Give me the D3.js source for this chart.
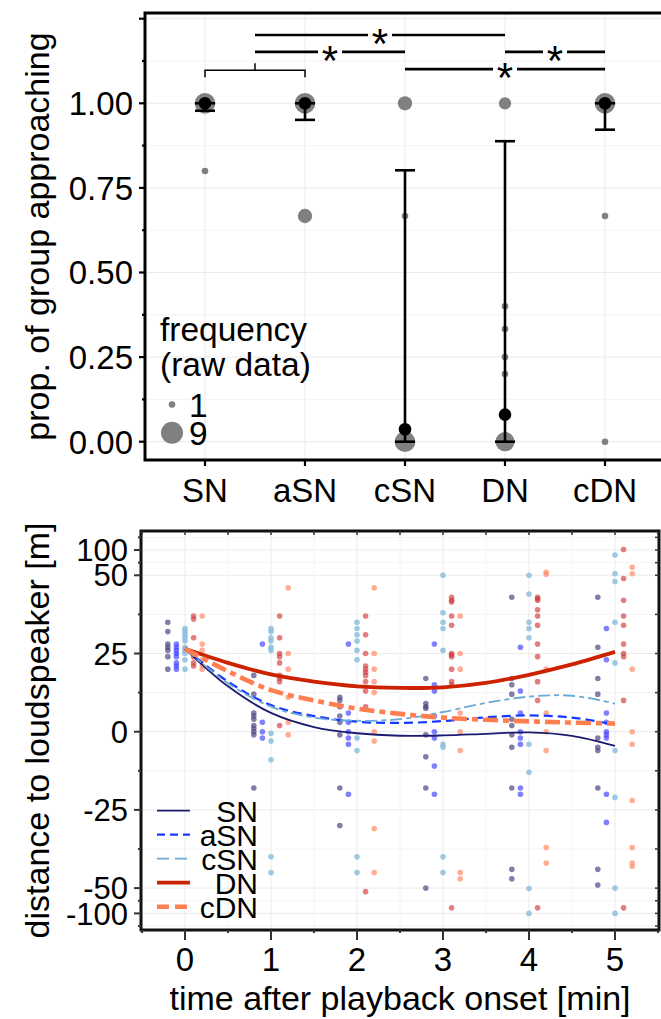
<!DOCTYPE html>
<html>
<head>
<meta charset="utf-8">
<script src="https://cdn.jsdelivr.net/npm/d3@7"></script>
<style>
body { margin: 0; background: #fff; }
svg { display: block; font-family: "Liberation Sans", Arial, sans-serif; }
</style>
</head>
<body>
<script>
// ---- data: upper panel (proportion approaching) ----
const groups = ["SN", "aSN", "cSN", "DN", "cDN"];
const rawProp = [[1, 0.8], [1, 0.667], [1, 0.667, 0], [1, 0.4, 0.333, 0.25, 0.2, 0], [1, 0.667, 0]];
const rawFreq = [[8, 1], [8, 4], [4, 1, 8], [3, 1, 1, 1, 1, 7], [8, 1, 1]];
const meanProp = [1.0, 1.0, 0.037, 0.08, 1.0];
const ciLow = [0.978, 0.951, 0, 0, 0.922];
const ciHigh = [1.0, 1.0, 0.802, 0.888, 1.0];
const sigFrom = ["SN+aSN", "SN+aSN", "DN", "cSN"];
const sigTo = ["cSN", "DN", "cDN", "cDN"];
const sigLevel = [1.152, 1.202, 1.152, 1.101];
const yTicksTop = ["0.00", "0.25", "0.50", "0.75", "1.00"];

// ---- data: lower panel (distance to loudspeaker) ----
const times = [0, 1, 2, 3, 4, 5];
const distSN = [
  [35, 32, 28, 27, 26, 24, 20],
  [18, 12, 6, 5, 4, 2, 1, 0, -1, -18],
  [11, 10, 8, 5, 3, -1, -18, -30],
  [17, 9, 8, 7.5, -1, -8, -18, -50],
  [43, 17, 15, 12, 4, 2, -1, -5, -18, -44, -47],
  [43, 27, 17, 12, -2, -5, -6, -18, -44, -49]
];
const distASN = [
  [28, 27, 26, 25, 24, 22, 21, 20],
  [28, 3, 0, -2],
  [28, 6, 3, 0, -2, -4, -20],
  [28, 15, 13, 5, 0, -2, -11, -20],
  [27, 13, 6, 0, -2, -4, -18, -20],
  [33, 23, 6, 3, 0, -1, -2, -20, -29]
];
const distCSN = [
  [33, 32, 31, 30, 29, 27, 26.5, 26, 25, 23, 20],
  [33, 32, 30, 29, 27, 26, -0.5, -3, -9, -40, -45],
  [35, 33, 31, 29, 26, 23, -2, -6, -40, -45],
  [50, 38, 35, 33, 26, -4, -5, -40, -45],
  [50, 44, 35, 33, 30, -4, -13, -51, -100],
  [90, 53, 48, 35, 22, -6, -21, -50, -100]
];
const distDN = [
  [37, 36, 30, 25, 24, 22, 21],
  [37, 30, 25, 24, 22, 18, 17, 16, 2],
  [37, 31, 25, 21, 20, 19, 18, 16, 13, 8, -57],
  [43, 42, 41.5, 37, 34, 25, 24.5, 24, 20, 16, 15, -89],
  [43, 42.5, 42, 39, 37, 34, 28, 24, 16, 10, -89],
  [101, 49, 42, 37, 34, 28, 25, 24, 10, -89]
];
const distCDN = [
  [37, 28, 26, 23, 21, 20],
  [46, 25, 20, 11, 3, -1],
  [46, 25, 20, 16, 12.5, 0, -3, -31, -45],
  [37, 25, 20, 6, 0, -6, -45, -47],
  [56, 52, 20, 6, 0, -6, -37, -42],
  [66, 53, 20, 0, -4, -22, -37, -42, -43]
];
const fitTimes = [0, 0.5, 1, 1.5, 2, 2.5, 3, 3.5, 4, 4.5, 5];
const fitSN = [26.5, 14.5, 6, 1.5, -0.5, -1.3, -1.2, -0.7, -0.2, -1.3, -4.5];
const fitASN = [26.5, 16, 8.5, 5, 3.2, 2.8, 3.4, 4.6, 5.2, 4.5, 2.3];
const fitCSN = [26.5, 15.5, 8, 4.5, 3.5, 4, 6.3, 9.2, 11.2, 11.5, 9];
const fitDN = [26.5, 22, 18.3, 16, 14.5, 14, 14.2, 15.6, 18.2, 21.5, 25.5];
const fitCDN = [26.5, 19.3, 13.3, 10, 7.4, 5.7, 4.5, 3.8, 3.3, 2.9, 2.6];
const yTicksBottom = [100, 50, 25, 0, -25, -50, -100];

const width = 661, height = 1019;
const svg = d3.select("body").append("svg")
    .attr("width", width)
    .attr("height", height);

const gridCol = "#ebebeb", minorCol = "#f4f4f4";
const tickFont = 33, titleFont = 34;

// ================= upper panel =================
const pTop = { l: 145, r: 675, t: 13, b: 460 };
const xTop = d3.scalePoint().domain(groups).range([145, 665]).padding(0.6);
const yTop = d3.scaleLinear().domain([0, 1]).range([441.7, 103.3]);
const rSize = d3.scaleSqrt().domain([1, 9]).range([3.3, 11]);
const xSig = k => k.includes("+") ? d3.mean(k.split("+"), g => xTop(g)) : xTop(k);

const gTop = svg.append("g");
d3.range(0, 1.3, 0.125).forEach((v, i) => {
  gTop.append("line")
      .attr("x1", pTop.l).attr("x2", pTop.r)
      .attr("y1", yTop(v)).attr("y2", yTop(v))
      .attr("stroke", i % 2 ? minorCol : gridCol).attr("stroke-width", 1);
});
groups.forEach(g => {
  gTop.append("line")
      .attr("x1", xTop(g)).attr("x2", xTop(g))
      .attr("y1", pTop.t).attr("y2", pTop.b)
      .attr("stroke", gridCol).attr("stroke-width", 1);
});

// raw data points, size = frequency
groups.forEach((g, i) => {
  gTop.selectAll(null)
      .data(rawProp[i].map((v, j) => ({ v: v, n: rawFreq[i][j] })))
      .enter().append("circle")
      .attr("cx", xTop(g))
      .attr("cy", d => yTop(d.v))
      .attr("r", d => rSize(d.n))
      .attr("fill", "#808080");
});

// error bars + means
groups.forEach((g, i) => {
  const x = xTop(g);
  gTop.append("line")
      .attr("x1", x).attr("x2", x)
      .attr("y1", yTop(ciLow[i])).attr("y2", yTop(ciHigh[i]))
      .attr("stroke", "#000").attr("stroke-width", 2.6);
  [ciLow[i], ciHigh[i]].forEach(v => {
    gTop.append("line")
        .attr("x1", x - 10).attr("x2", x + 10)
        .attr("y1", yTop(v)).attr("y2", yTop(v))
        .attr("stroke", "#000").attr("stroke-width", 2.6);
  });
  gTop.append("circle")
      .attr("cx", x).attr("cy", yTop(meanProp[i]))
      .attr("r", 6.3).attr("fill", "#000");
});

// bracket joining SN and aSN
const yb = yTop(1.098);
gTop.append("path")
    .attr("d", `M${xTop("SN")},${yb + 7}V${yb}H${xTop("aSN")}V${yb + 7}M${xSig("SN+aSN")},${yb}V${yb - 7}`)
    .attr("fill", "none").attr("stroke", "#000").attr("stroke-width", 1.5);

// significance lines with stars
sigFrom.forEach((a, i) => {
  const x1 = xSig(a), x2 = xSig(sigTo[i]), y = yTop(sigLevel[i]);
  const xm = (x1 + x2) / 2, gap = 12;
  gTop.append("path")
      .attr("d", `M${x1},${y}H${xm - gap}M${xm + gap},${y}H${x2}`)
      .attr("stroke", "#000").attr("stroke-width", 2.6);
  gTop.append("text")
      .attr("x", xm).attr("y", y + 23)
      .attr("text-anchor", "middle")
      .attr("font-size", 42)
      .text("*");
});

// border
gTop.append("rect")
    .attr("x", pTop.l).attr("y", pTop.t)
    .attr("width", pTop.r - pTop.l).attr("height", pTop.b - pTop.t)
    .attr("fill", "none").attr("stroke", "#000").attr("stroke-width", 3);

// y axis ticks and labels
d3.range(0, 1.3, 0.125).forEach((v, i) => {
  gTop.append("line")
      .attr("x1", pTop.l - (i % 2 ? 3 : 6)).attr("x2", pTop.l)
      .attr("y1", yTop(v)).attr("y2", yTop(v))
      .attr("stroke", "#000").attr("stroke-width", 2.2);
});
yTicksTop.forEach(t => {
  gTop.append("text")
      .attr("x", 133).attr("y", yTop(+t)).attr("dy", "0.36em")
      .attr("text-anchor", "end").attr("font-size", tickFont)
      .text(t);
});
groups.forEach(g => {
  gTop.append("line")
      .attr("x1", xTop(g)).attr("x2", xTop(g))
      .attr("y1", pTop.b).attr("y2", pTop.b + 6)
      .attr("stroke", "#000").attr("stroke-width", 2.2);
  gTop.append("text")
      .attr("x", xTop(g)).attr("y", 502)
      .attr("text-anchor", "middle").attr("font-size", tickFont)
      .text(g);
});
gTop.append("text")
    .attr("transform", `translate(49,${(pTop.t + pTop.b) / 2}) rotate(-90)`)
    .attr("text-anchor", "middle").attr("font-size", titleFont)
    .text("prop. of group approaching");

// size legend
gTop.append("text").attr("x", 160).attr("y", 341).attr("font-size", 33.5).text("frequency");
gTop.append("text").attr("x", 160).attr("y", 376).attr("font-size", 33.5).text("(raw data)");
[1, 9].forEach((n, i) => {
  const cy = 404.5 + i * 28.3;
  gTop.append("circle").attr("cx", 172).attr("cy", cy).attr("r", rSize(n)).attr("fill", "#808080");
  gTop.append("text").attr("x", 189).attr("y", cy).attr("dy", "0.36em")
      .attr("font-size", 33.5).text(n);
});

// ================= lower panel =================
const pBot = { l: 141, r: 659, t: 531, b: 930 };
const xBot = d3.scaleLinear().domain([-0.5, 5.5]).range([pBot.l + 1, pBot.r - 1]);
// linear between -50 and 50, compressed beyond
const yBot = d3.scaleLinear()
    .domain([-100, -50, 50, 100])
    .range([913.4, 888.1, 575.3, 550]);

const series = [
  { name: "SN",  pts: distSN,  fit: fitSN,  line: "#1c1a6e", pt: "#4f4785", op: 0.7, w: 1.8, dash: null },
  { name: "aSN", pts: distASN, fit: fitASN, line: "#1738ff", pt: "#3c3cff", op: 0.65, w: 2.2, dash: "9,5" },
  { name: "cSN", pts: distCSN, fit: fitCSN, line: "#6aaad4", pt: "#86bbdc", op: 0.8, w: 1.8, dash: "12,4,5,4" },
  { name: "DN",  pts: distDN,  fit: fitDN,  line: "#cc2200", pt: "#d4393a", op: 0.65, w: 3.8, dash: null },
  { name: "cDN", pts: distCDN, fit: fitCDN, line: "#ff7f50", pt: "#ff9272", op: 0.75, w: 4.6, dash: "15,5,6,5" }
];

const gBot = svg.append("g");
const clip = svg.append("clipPath").attr("id", "clipBot");
clip.append("rect").attr("x", pBot.l).attr("y", pBot.t).attr("width", pBot.r - pBot.l).attr("height", pBot.b - pBot.t);

// grid
[125, 75, 37.5, 12.5, -12.5, -37.5, -75, -125].forEach(v => {
  gBot.append("line").attr("x1", pBot.l).attr("x2", pBot.r)
      .attr("y1", yBot(v)).attr("y2", yBot(v))
      .attr("stroke", minorCol).attr("stroke-width", 1);
});
yTicksBottom.forEach(v => {
  gBot.append("line").attr("x1", pBot.l).attr("x2", pBot.r)
      .attr("y1", yBot(v)).attr("y2", yBot(v))
      .attr("stroke", gridCol).attr("stroke-width", 1);
});
d3.range(-0.5, 5.6, 0.5).forEach(t => {
  gBot.append("line").attr("x1", xBot(t)).attr("x2", xBot(t))
      .attr("y1", pBot.t).attr("y2", pBot.b)
      .attr("stroke", Number.isInteger(t) ? gridCol : minorCol).attr("stroke-width", 1);
});

// raw points, dodged by group
const offset = d3.scalePoint().domain(groups).range([-0.2, 0.2]);
const plot = gBot.append("g").attr("clip-path", "url(#clipBot)");
series.forEach(s => {
  const pts = [];
  s.pts.forEach((arr, k) => arr.forEach(v => pts.push({ t: times[k], v: v })));
  plot.selectAll(null).data(pts).enter().append("circle")
      .attr("cx", d => xBot(d.t + offset(s.name)))
      .attr("cy", d => yBot(d.v))
      .attr("r", 2.8)
      .attr("fill", s.pt)
      .attr("fill-opacity", s.op);
});

// smoothed fits
const lineGen = d3.line()
    .x((d, i) => xBot(fitTimes[i]))
    .y(d => yBot(d))
    .curve(d3.curveCatmullRom.alpha(0.5));
series.forEach(s => {
  plot.append("path")
      .attr("d", lineGen(s.fit))
      .attr("fill", "none")
      .attr("stroke", s.line)
      .attr("stroke-width", s.w)
      .attr("stroke-dasharray", s.dash);
});

// border and ticks
gBot.append("rect")
    .attr("x", pBot.l).attr("y", pBot.t)
    .attr("width", pBot.r - pBot.l).attr("height", pBot.b - pBot.t)
    .attr("fill", "none").attr("stroke", "#111").attr("stroke-width", 3);

d3.range(-0.5, 5.6, 0.5).forEach(t => {
  const major = Number.isInteger(t);
  gBot.append("line").attr("x1", xBot(t)).attr("x2", xBot(t))
      .attr("y1", pBot.b).attr("y2", pBot.b + (major ? 10 : 3))
      .attr("stroke", "#333").attr("stroke-width", 2);
  gBot.append("line").attr("x1", xBot(t)).attr("x2", xBot(t))
      .attr("y1", pBot.t).attr("y2", pBot.t + 4)
      .attr("stroke", "#333").attr("stroke-width", 1.5);
});
yTicksBottom.concat([125, 75, 37.5, 12.5, -12.5, -37.5, -75, -125]).forEach(v => {
  const major = yTicksBottom.includes(v);
  gBot.append("line").attr("x1", pBot.l - (major ? 7 : 3)).attr("x2", pBot.l)
      .attr("y1", yBot(v)).attr("y2", yBot(v))
      .attr("stroke", "#333").attr("stroke-width", 2);
  gBot.append("line").attr("x1", pBot.r - 4).attr("x2", pBot.r)
      .attr("y1", yBot(v)).attr("y2", yBot(v))
      .attr("stroke", "#333").attr("stroke-width", 1.5);
});

yTicksBottom.forEach(v => {
  gBot.append("text")
      .attr("x", 128).attr("y", yBot(v)).attr("dy", "0.36em")
      .attr("text-anchor", "end").attr("font-size", 31)
      .text(v);
});
times.forEach(t => {
  gBot.append("text")
      .attr("x", xBot(t)).attr("y", 971)
      .attr("text-anchor", "middle").attr("font-size", tickFont)
      .text(t);
});
gBot.append("text")
    .attr("x", (pBot.l + pBot.r) / 2).attr("y", 1010)
    .attr("text-anchor", "middle").attr("font-size", titleFont)
    .text("time after playback onset [min]");
gBot.append("text")
    .attr("transform", `translate(49,${(pBot.t + pBot.b) / 2}) rotate(-90)`)
    .attr("text-anchor", "middle").attr("font-size", titleFont)
    .text("distance to loudspeaker [m]");

// line legend
series.forEach((s, i) => {
  const y = 810.7 + i * 24;
  gBot.append("line")
      .attr("x1", 157).attr("x2", 190).attr("y1", y).attr("y2", y)
      .attr("stroke", s.line).attr("stroke-width", s.w)
      .attr("stroke-dasharray", s.dash ? (s.name === "aSN" ? "8,5" : "12,6") : null);
  gBot.append("text")
      .attr("x", 258).attr("y", y).attr("dy", "0.36em")
      .attr("text-anchor", "end").attr("font-size", 30)
      .text(s.name);
});
</script>
</body>
</html>
